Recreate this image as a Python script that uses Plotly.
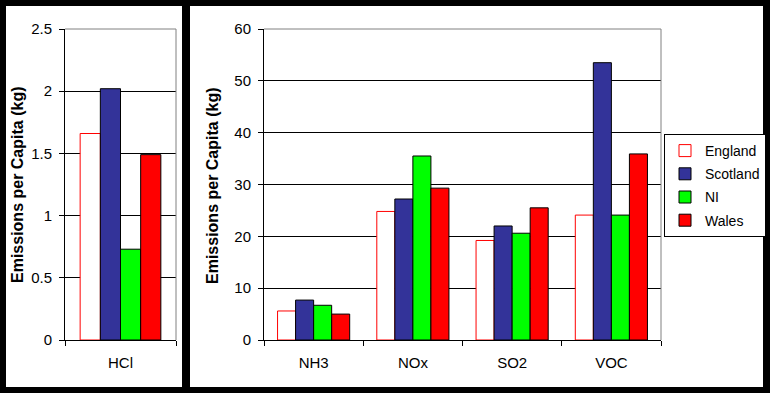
import plotly.graph_objects as go

W, H = 770, 393

series = ["England", "Scotland", "NI", "Wales"]
left_cats = ["HCl"]
left_vals = {
    "England": [1.66],
    "Scotland": [2.02],
    "NI": [0.73],
    "Wales": [1.49],
}
right_cats = ["NH3", "NOx", "SO2", "VOC"]
right_vals = {
    "England": [5.6, 24.8, 19.2, 24.1],
    "Scotland": [7.7, 27.2, 22.0, 53.5],
    "NI": [6.7, 35.5, 20.6, 24.1],
    "Wales": [5.0, 29.3, 25.5, 35.9],
}
fills = {"England": "white", "Scotland": "#333399", "NI": "#00FF00", "Wales": "#FF0000"}
borders = {"England": "#FF0000", "Scotland": "black", "NI": "black", "Wales": "black"}

FONT = "Liberation Sans, Arial, sans-serif"

def px_x(v):
    return v / W

def px_y(v):
    return 1 - v / H

fig = go.Figure()
for s in series:
    fig.add_trace(go.Bar(
        x=left_cats, y=left_vals[s], name=s, xaxis="x", yaxis="y",
        legendgroup=s,
        marker=dict(color=fills[s], line=dict(color=borders[s], width=1)),
        showlegend=False,
    ))
for s in series:
    fig.add_trace(go.Bar(
        x=right_cats, y=right_vals[s], name=s, xaxis="x2", yaxis="y2",
        legendgroup=s,
        marker=dict(color=fills[s], line=dict(color=borders[s], width=1)),
    ))

ydom = [px_y(340), px_y(29)]
axis_common = dict(
    showline=True, linecolor="black", linewidth=1, automargin=False,
    ticks="outside", ticklen=5, tickcolor="black", tickwidth=1,
    tickfont=dict(family=FONT, size=15, color="black"),
)
fig.update_layout(
    template="none",
    width=W, height=H,
    margin=dict(l=0, r=0, t=0, b=0, pad=0, autoexpand=False),
    paper_bgcolor="black", plot_bgcolor="white",
    barmode="group", bargap=0.273, bargroupgap=0,
    font=dict(family=FONT, size=15, color="black"),
    xaxis=dict(domain=[px_x(65), px_x(176)], anchor="y", tickson="boundaries",
               showgrid=False, ticklabelstandoff=9, **axis_common),
    yaxis=dict(domain=ydom, anchor="x", range=[0, 2.5], dtick=0.5,
               showgrid=True, gridcolor="black", gridwidth=1, zeroline=False,
               ticklabelstandoff=4, **axis_common),
    xaxis2=dict(domain=[px_x(264), px_x(661)], anchor="y2", tickson="boundaries",
                showgrid=False, ticklabelstandoff=9, **axis_common),
    yaxis2=dict(domain=ydom, anchor="x2", range=[0, 60], dtick=10,
                showgrid=True, gridcolor="black", gridwidth=1, zeroline=False,
                ticklabelstandoff=4, **axis_common),
    legend=dict(
        x=px_x(664), y=px_y(134), xanchor="left", yanchor="top",
        bgcolor="white", bordercolor="black", borderwidth=1,
        font=dict(family=FONT, size=14, color="black"),
        tracegroupgap=2, itemwidth=30,
    ),
    showlegend=True,
)

shapes = [
    dict(type="rect", xref="paper", yref="paper", x0=px_x(6), x1=px_x(182),
         y0=px_y(387), y1=px_y(6), fillcolor="white", line=dict(width=0), layer="below"),
    dict(type="rect", xref="paper", yref="paper", x0=px_x(190), x1=px_x(763),
         y0=px_y(387), y1=px_y(6), fillcolor="white", line=dict(width=0), layer="below"),
    # gray plot-area border (top & right)
    dict(type="line", xref="paper", yref="paper", x0=px_x(65), x1=px_x(176),
         y0=px_y(29), y1=px_y(29), line=dict(color="#808080", width=1)),
    dict(type="line", xref="paper", yref="paper", x0=px_x(176), x1=px_x(176),
         y0=px_y(29), y1=px_y(340), line=dict(color="#808080", width=1)),
    dict(type="line", xref="paper", yref="paper", x0=px_x(264), x1=px_x(661),
         y0=px_y(29), y1=px_y(29), line=dict(color="#808080", width=1)),
    dict(type="line", xref="paper", yref="paper", x0=px_x(661), x1=px_x(661),
         y0=px_y(29), y1=px_y(340), line=dict(color="#808080", width=1)),
]
fig.update_layout(shapes=shapes)

title_font = dict(family=FONT, size=16, color="black")
fig.add_annotation(text="<b>Emissions per Capita (kg)</b>", xref="paper", yref="paper",
                   x=px_x(18), y=px_y(185), textangle=-90, showarrow=False,
                   font=title_font, xanchor="center", yanchor="middle")
fig.add_annotation(text="<b>Emissions per Capita (kg)</b>", xref="paper", yref="paper",
                   x=px_x(213), y=px_y(185), textangle=-90, showarrow=False,
                   font=title_font, xanchor="center", yanchor="middle")

fig.write_html("out.html", config={"displayModeBar": False},
               post_script="document.body.style.margin='0';")
